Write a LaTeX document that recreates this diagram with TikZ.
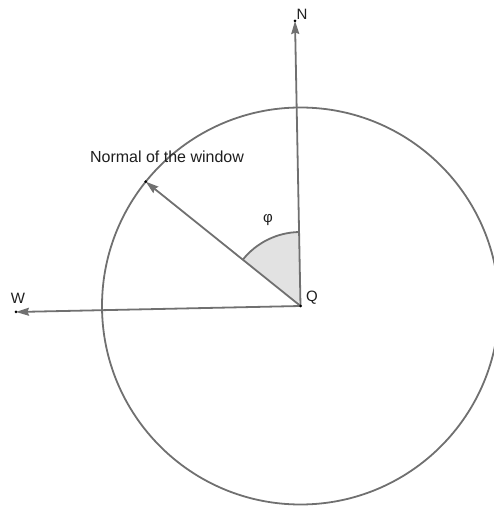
\documentclass[tikz,border=0pt]{standalone}
\usepackage{fontspec}
\setmainfont{Liberation Sans}
\usetikzlibrary{arrows.meta}
\definecolor{linegray}{RGB}{112,112,112}
\definecolor{sectorfill}{RGB}{226,226,226}
\definecolor{txt}{RGB}{30,30,30}
\tikzset{
  vec/.style={draw=linegray, line width=1.8pt, -{Stealth[length=13pt,width=8pt,inset=1.5pt]}},
  pt/.style={circle, fill=black, inner sep=0pt, minimum size=3pt},
  lbl/.style={text=txt, font=\fontsize{15}{18}\selectfont, inner sep=0pt}
}
\begin{document}
\begin{tikzpicture}[x=1pt,y=1pt]
\useasboundingbox (0,0) rectangle (494,506);
% points
\coordinate (Q) at (300.5,200);
\coordinate (N) at (295,485);
\coordinate (W) at (16,194);
\coordinate (E) at (145.7,324.3);
% angle sector
\fill[sectorfill] (Q) -- ++(91.1:74pt) arc[start angle=91.1, end angle=141.2, radius=74pt] -- cycle;
\draw[linegray, line width=1.8pt] (Q) ++(91.1:74pt) arc[start angle=91.1, end angle=141.2, radius=74pt];
% circle
\draw[linegray, line width=1.8pt] (Q) circle[radius=198.5pt];
% vectors
\draw[vec] (Q) -- (N);
\draw[vec] (Q) -- (W);
\draw[vec] (Q) -- (E);
% dots
\node[pt] (q) at (Q) {};
\node[pt] (n) at (N) {};
\node[pt] (w) at (W) {};
\node[pt] (e) at (E) {};
% labels
\node[lbl] (lN) at (302,492) {N};
\node[lbl] (lW) at (18,208) {W};
\node[lbl] (lQ) at (312,208) {Q};
\node[lbl] (lphi) at (268,286) {φ};
\node[lbl, font=\fontsize{16}{19}\selectfont] (lnorm) at (167,349) {Normal of the window};
\end{tikzpicture}
\end{document}
